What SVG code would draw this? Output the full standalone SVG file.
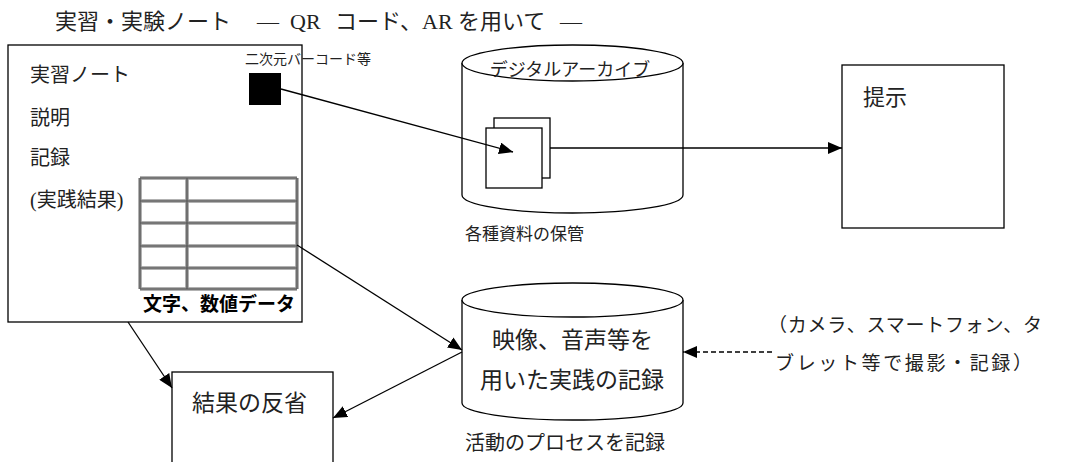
<svg xmlns="http://www.w3.org/2000/svg" width="1065" height="462" viewBox="0 0 1065 462">
<defs>
<style>
.t{font-family:"Liberation Serif","Noto Sans CJK JP",serif;fill:#222;}
.s{font-family:"Noto Sans CJK JP",sans-serif;fill:#000;font-weight:bold;}
.box{fill:#fff;stroke:#000;stroke-width:1.3;}
.ln{fill:none;stroke:#000;stroke-width:1.3;}
.tb{fill:none;stroke:#999;stroke-width:3.5;}
.tb2{fill:none;stroke:#555;stroke-width:1.2;}
</style>
<marker id="ah" viewBox="0 0 14 12" refX="14" refY="6" markerWidth="14" markerHeight="12" markerUnits="userSpaceOnUse" orient="auto">
<path d="M0,0 L14,6 L0,12 Z" fill="#000"/>
</marker>
</defs>
<rect width="1065" height="462" fill="#fff"/>

<g id="title">
<text class="t" x="55" y="29" font-size="22">実習・実験ノート<tspan x="257">—</tspan><tspan x="290">QR</tspan><tspan x="335">コード、AR</tspan><tspan x="458">を用いて</tspan><tspan x="560">—</tspan></text>
</g>

<g id="note">
<rect class="box" x="8" y="45" width="294" height="277"/>
<text class="t" x="30" y="82" font-size="20">実習ノート</text>
<text class="t" x="30" y="125" font-size="20">説明</text>
<text class="t" x="30" y="165" font-size="20">記録</text>
<text class="t" x="30" y="207" font-size="20">(実践結果)</text>
<text class="t" x="245" y="64" font-size="14">二次元バーコード等</text>
<rect x="249" y="73" width="32" height="32" fill="#000"/>
<g id="table">
<path class="tb" d="M140,178 H297 M140,201 H297 M140,223 H297 M140,246 H297 M140,268 H297 M140,289 H297 M140,178 V289 M187,178 V289 M297,178 V289"/>
<path class="tb2" d="M140,178 H297 M140,201 H297 M140,223 H297 M140,246 H297 M140,268 H297 M140,289 H297 M140,178 V289 M187,178 V289 M297,178 V289"/>
</g>
<text class="s" x="143" y="311" font-size="19">文字、数値データ</text>
</g>

<g id="archive">
<path class="box" d="M462,63 V195 A110.5,18 0 0 0 683,195 V63"/>
<ellipse class="box" cx="572.5" cy="63" rx="110.5" ry="18"/>
<text class="t" x="570" y="76" font-size="18" text-anchor="middle">デジタルアーカイブ</text>
<rect class="box" x="494" y="118" width="56" height="60"/>
<rect class="box" x="486" y="128" width="56" height="60"/>
<text class="t" x="465" y="240" font-size="17">各種資料の保管</text>
</g>

<g id="present">
<rect class="box" x="842" y="65" width="162" height="163"/>
<text class="t" x="863" y="105" font-size="22">提示</text>
</g>

<g id="record">
<path class="box" d="M462,300 V403 A110.5,17 0 0 0 683,403 V300"/>
<ellipse class="box" cx="572.5" cy="300" rx="110.5" ry="17"/>
<text class="t" x="492" y="348" font-size="23">映像、音声等を</text>
<text class="t" x="480" y="388" font-size="23">用いた実践の記録</text>
<text class="t" x="465" y="450" font-size="20">活動のプロセスを記録</text>
</g>

<g id="reflect">
<rect class="box" x="172" y="372" width="161" height="100"/>
<text class="t" x="192" y="411" font-size="23">結果の反省</text>
</g>

<g id="devices">
<text class="t" x="768" y="332" font-size="19" textLength="274" lengthAdjust="spacing">（カメラ、スマートフォン、タ</text>
<text class="t" x="775" y="370" font-size="19" textLength="257" lengthAdjust="spacing">ブレット等で撮影・記録）</text>
</g>

<g id="connectors">
<line class="ln" x1="281" y1="89" x2="513" y2="152" marker-end="url(#ah)"/>
<line class="ln" x1="550" y1="148" x2="842" y2="148" marker-end="url(#ah)"/>
<line class="ln" x1="297" y1="245" x2="462" y2="350" marker-end="url(#ah)"/>
<line class="ln" x1="462" y1="352" x2="333" y2="418" marker-end="url(#ah)"/>
<line class="ln" x1="128" y1="322" x2="172" y2="388" marker-end="url(#ah)"/>
<line class="ln" x1="772" y1="352" x2="683" y2="352" stroke-dasharray="5,3" marker-end="url(#ah)"/>
</g>
</svg>
